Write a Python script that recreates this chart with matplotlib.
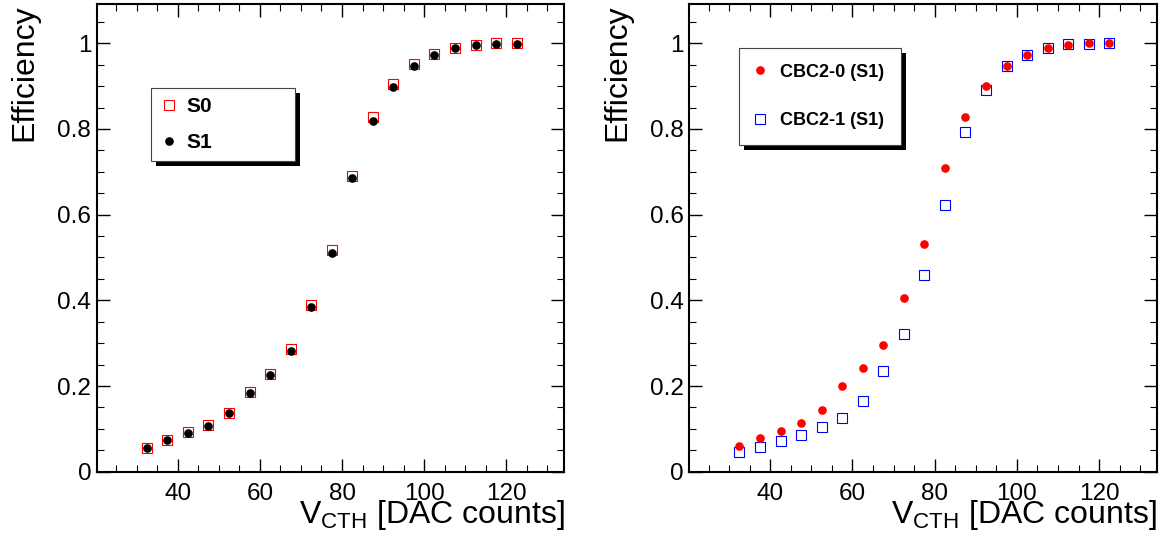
import numpy as np
import matplotlib
matplotlib.use('Agg')
import matplotlib.pyplot as plt
from matplotlib.ticker import MultipleLocator, FuncFormatter
from matplotlib.patches import Rectangle

plt.rcParams['font.family'] = ['Liberation Sans', 'DejaVu Sans']
plt.rcParams['mathtext.fontset'] = 'custom'
plt.rcParams['mathtext.rm'] = 'Liberation Sans'

# threshold bins (DAC counts)
vcth = [32.5, 37.5, 42.5, 47.5, 52.5, 57.5, 62.5, 67.5, 72.5, 77.5,
        82.5, 87.5, 92.5, 97.5, 102.5, 107.5, 112.5, 117.5, 122.5]

# left panel: sensor S0 / S1
eff_s0 = [0.056, 0.075, 0.093, 0.109, 0.138, 0.185, 0.228, 0.287, 0.389, 0.518,
          0.691, 0.829, 0.905, 0.951, 0.975, 0.990, 0.997, 1.000, 1.000]
eff_s1 = [0.056, 0.074, 0.090, 0.107, 0.136, 0.183, 0.225, 0.281, 0.385, 0.511,
          0.685, 0.819, 0.897, 0.947, 0.972, 0.988, 0.997, 0.999, 0.999]

# right panel: two chips, sensor S1
eff_cbc0 = [0.060, 0.079, 0.095, 0.113, 0.145, 0.199, 0.241, 0.296, 0.406, 0.531,
            0.708, 0.828, 0.900, 0.947, 0.972, 0.988, 0.997, 1.000, 1.000]
eff_cbc1 = [0.045, 0.057, 0.071, 0.086, 0.105, 0.126, 0.165, 0.236, 0.321, 0.458,
            0.623, 0.794, 0.891, 0.947, 0.972, 0.990, 0.998, 0.999, 1.000]

W, H = 1167, 543
fig = plt.figure(figsize=(W / 100, H / 100), dpi=100)
ax1 = fig.add_axes([96.7 / W, 71.3 / H, 467.6 / W, 467.4 / H])
ax2 = fig.add_axes([689.3 / W, 71.3 / H, 467.7 / W, 467.4 / H])


def style_axis(ax):
    ax.set_xlim(20.3, 134.1)
    ax.set_ylim(0, 1.091)
    ax.xaxis.set_major_locator(MultipleLocator(20))
    ax.xaxis.set_minor_locator(MultipleLocator(5))
    ax.yaxis.set_major_locator(MultipleLocator(0.2))
    ax.yaxis.set_minor_locator(MultipleLocator(0.05))
    ax.yaxis.set_major_formatter(FuncFormatter(lambda v, p: '%g' % round(v, 2)))
    ax.tick_params(which='both', direction='in', top=True, right=True, labelsize=17.5)
    ax.tick_params(which='major', length=9.5, width=1.0)
    ax.tick_params(which='minor', length=5, width=0.8)
    ax.tick_params(axis='x', pad=8)
    ax.tick_params(axis='y', pad=4)
    for s in ax.spines.values():
        s.set_linewidth(1.5)
    ax.set_ylabel('Efficiency', fontsize=23, loc='top')
    ax.yaxis.set_label_coords(-0.122, 1.0)
    ax.set_xlabel(r'$\mathregular{V_{CTH}}$ [DAC counts]', fontsize=23, loc='right')
    ax.xaxis.set_label_coords(1.0, -0.0555)


style_axis(ax1)
style_axis(ax2)

ax1.plot(vcth, eff_s0, 's', ms=6.5, mfc='none', mec='red', mew=0.8, ls='none', label='S0')
ax1.plot(vcth, eff_s1, 'o', ms=5.2, color='black', ls='none', label='S1')

ax2.plot(vcth, eff_cbc0, 'o', ms=5.2, color='red', ls='none', label='CBC2-0 (S1)', zorder=3)
ax2.plot(vcth, eff_cbc1, 's', ms=6.5, mfc='none', mec='blue', mew=0.8, ls='none',
         label='CBC2-1 (S1)', zorder=2)

leg1 = ax1.legend(loc='upper left', mode='expand',
                  bbox_to_anchor=(0.116, 0.0, 0.308, (471.7 - 88.3) / 467.4),
                  prop={'weight': 'bold', 'size': 15}, fancybox=False, framealpha=1,
                  edgecolor='#444444', borderpad=0.43, labelspacing=0.82,
                  handlelength=0.87, handletextpad=0.38, borderaxespad=0)
leg2 = ax2.legend(loc='upper left', mode='expand',
                  bbox_to_anchor=(0.1056, 0.0, 0.3463, (471.7 - 48.3) / 467.4),
                  prop={'weight': 'bold', 'size': 13}, fancybox=False, framealpha=1,
                  edgecolor='#444444', borderpad=0.85, labelspacing=1.76,
                  handlelength=0.63, handletextpad=0.79, borderaxespad=0)
for leg in (leg1, leg2):
    leg.get_frame().set_linewidth(0.8)

# ROOT-style solid drop shadow behind each legend box
fig.canvas.draw()
for ax, leg in ((ax1, leg1), (ax2, leg2)):
    bb = leg.get_frame().get_window_extent()
    sh = Rectangle((bb.x0 + 5, bb.y0 - 5), bb.width, bb.height, transform=None,
                   facecolor='black', edgecolor='none', zorder=4.9)
    ax.add_artist(sh)

fig.savefig('out.png', dpi=100)
